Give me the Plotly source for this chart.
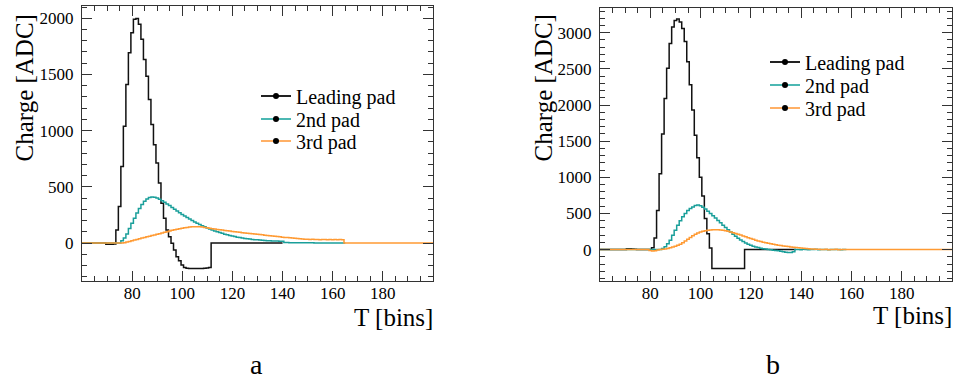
import plotly.graph_objects as go

W, H = 953, 379

# ---------------- data (bin centres in T, charge in ADC) ----------------
# panel a
a_lead_start = 60
a_lead = [0, 0, 0, 0, 0, 0, 0, 0, 0, 0,
          -10, -12, -12, -8,
          116, 324, 681, 1039, 1411, 1694, 1872, 1991, 1997, 1947, 1813, 1634, 1485,
          1277, 1054, 875, 712, 533, 354, 220, 116, 56, -3, -63, -122, -158, -196,
          -217, -224, -226, -226, -226, -226, -226, -226, -225, -222, -218,
          0, 0, 0, 0, 0, 0, 0, 0, 0, 0, 0, 0, 0, 0, 0, 0, 0, 0, 0, 0, 0, 0, 0, 0,
          0, 0, 0, 0, 0]
a_2nd_start = 60
a_2nd = [0, 0, 0, 0, 0, 0, 0, 0, 0, 0, 0, 0, 0, 0, 0, 0,
         20, 45, 80, 130, 175, 220, 268, 308, 342, 372, 392, 404, 410, 408, 400,
         390, 377, 363, 348, 333, 317, 301, 285, 269, 254, 240, 226, 213, 200, 188,
         176, 165, 154, 144, 134, 125, 116, 108, 100, 93, 86, 79, 73, 67, 62, 57,
         52, 48, 44, 41, 38, 35, 32, 30, 28, 26, 24, 22, 21, 20, 19, 18, 17, 16, 15,
         4, 4, 3, 3, 3, 3, 2, 2, 2, 2, 2, 2, 1, 1, 1, 1, 1, 1, 1, 1, 1, 1, 0, 0, 0]
a_3rd_start = 60
a_3rd = [0, 0, 0, 0, 0, 0, 0, 0, 0, 0, 0, 0, 0, 0, 0, 0, 0,
         3, 8, 14, 20, 26, 32, 38, 44, 50, 55, 60, 66, 71, 77, 83, 89, 95, 101, 107,
         113, 118, 123, 128, 132, 136, 139, 142, 144, 145, 145, 144, 142, 139, 136,
         132, 128, 124, 121, 118, 115, 112, 109, 106, 103, 101, 98, 95, 92, 89, 87,
         84, 82, 80, 78, 76, 73, 70, 67, 64, 62, 60, 57, 55, 52, 50, 48, 46, 44, 42,
         40, 38, 36, 34, 33, 32, 33, 31, 32, 30, 31, 32, 30, 31, 30, 32, 30, 31, 30,
         0, 0, 0, 0, 0, 0, 0, 0, 0, 0, 0, 0, 0, 0, 0, 0, 0, 0, 0, 0, 0, 0, 0, 0, 0,
         0, 0, 0, 0, 0, 0, 0, 0, 0, 0, 0]

# panel b
b_lead_start = 60
b_lead = [0, 0, 0, 0, 0, 0, 0, 0, 0, 0, 0,
          12, 10, 8, 5,
          0, 0, 0, 0, 0, 0,
          25, 160, 540, 1050, 1600, 2090, 2510, 2850, 3080, 3170, 3190, 3150, 3060,
          2880, 2600, 2280, 1930, 1580, 1270, 1000, 740, 430, 220, 20,
          -263, -263, -263, -263, -263, -263, -263, -263, -263, -263, -263, -263, -263,
          0, 0, 0, 0, 0, 0, 0, 0, 0, 0, 0, 0, 0, 0, 0, 0, 0, 0, 0, 0, 0]
b_2nd_start = 60
b_2nd = [0, 0, 0, 0, 0, 0, 0, 0, 0, 0, 0, 0, 0, 0, 0, 0, 0, 0, 0, 0, 0, 0, 0, 0, 0,
         14, 40, 80, 129, 198, 267, 337, 400, 455, 500, 540, 568, 590, 608, 615, 605,
         585, 560, 530, 500, 468, 435, 402, 370, 338, 305, 273, 242, 212, 183, 156,
         132, 110, 91, 75, 60, 47, 36, 27, 19, 12, 7, 2, -3, -8, -13, -18, -24, -30,
         -36, -40, -42, -30,
         0, 2, -2, 3, 0, -3, 2, 0, 3, -2, 0, 2, 0, -2, 2, 0, 1, 0, -1, 0, 0]
b_3rd_start = 60
b_3rd = [0, 0, 0, 0, 0, 0, 0, 0, 0, 0, 0, 0, 0, 0, 0, 0, 0, 0, 0, 0,
         -12, -20, -15, -6, 0, 4, 9, 16, 25, 35, 46, 58, 74, 94, 117, 142, 167, 192,
         213, 230, 243, 253, 261, 267, 271, 274, 275, 273, 270, 266, 260, 252, 243,
         233, 222, 211, 200, 188, 176, 164, 152, 141, 130, 120, 111, 102, 94, 86, 79,
         72, 66, 60, 55, 50, 45, 41, 37, 33, 29, 25, 22, 18, 15, 12, 9, 6, 4, 3, 2, 1,
         3, -2, 2, 0, 3, -1, 2, 0, 1, 0,
         0, 0, 0, 0, 0, 0, 0, 0, 0, 0, 0, 0, 0, 0, 0, 0, 0, 0, 0, 0, 0, 0, 0, 0, 0,
         0, 0, 0, 0, 0, 0, 0, 0, 0, 0, 0, 0, 0, 0, 0, 0]

series_names = ["Leading pad", "2nd pad", "3rd pad"]
series_colors = ["#111111", "#1a9f9a", "#ff9a33"]
legend_colors = ["#222222", "#4cb8b3", "#ffb066"]

x_range = [60, 200]
x_ticks = [80, 100, 120, 140, 160, 180]
a_y_range = [-338, 2109]
a_y_ticks = [0, 500, 1000, 1500, 2000]
b_y_range = [-435, 3342]
b_y_ticks = [0, 500, 1000, 1500, 2000, 2500, 3000]
panel_labels = ["a", "b"]
x_title = "T [bins]"
y_title = "Charge [ADC]"

FONT = "Liberation Serif, Times New Roman, serif"

fig = go.Figure()

panels = [
    dict(xa="x", ya="y",
         data=[(a_lead_start, a_lead), (a_2nd_start, a_2nd), (a_3rd_start, a_3rd)],
         legends=["legend", "legend2", "legend3"], leg_y=[96, 119, 141], leg_x=256),
    dict(xa="x2", ya="y2",
         data=[(b_lead_start, b_lead), (b_2nd_start, b_2nd), (b_3rd_start, b_3rd)],
         legends=["legend4", "legend5", "legend6"], leg_y=[62, 85, 108], leg_x=765),
]

for p in panels:
    for k, (start, vals) in enumerate(p["data"]):
        fig.add_trace(go.Scatter(
            x=list(range(start, start + len(vals))), y=vals,
            mode="lines", line=dict(color=series_colors[k], width=1.5, shape="hvh"),
            xaxis=p["xa"], yaxis=p["ya"], showlegend=False, hoverinfo="skip"))
    for k in range(3):
        fig.add_trace(go.Scatter(
            x=[None], y=[None], mode="lines+markers", name=series_names[k],
            line=dict(color=legend_colors[k], width=2),
            marker=dict(color="black", size=6),
            xaxis=p["xa"], yaxis=p["ya"], legend=p["legends"][k], showlegend=True))

axis_common = dict(showline=True, linecolor="#333", linewidth=1, mirror="allticks",
                   ticks="inside", ticklen=10, tickwidth=1, tickcolor="#333",
                   showgrid=False, zeroline=False, automargin=False,
                   tickfont=dict(family=FONT, size=17, color="black"))

fig.update_layout(
    width=W, height=H, margin=dict(l=0, r=0, t=0, b=0, autoexpand=False),
    paper_bgcolor="white", plot_bgcolor="white",
    font=dict(family=FONT, color="black"),
    xaxis=dict(axis_common, domain=[82 / W, 433 / W], range=x_range, anchor="y",
               tickmode="array", tickvals=x_ticks, ticklabelstandoff=-3, tickangle=0,
               minor=dict(ticks="inside", ticklen=5, dtick=5, tick0=0, tickcolor="#333")),
    yaxis=dict(axis_common, domain=[1 - 281 / H, 1 - 6 / H], range=a_y_range, anchor="x",
               tickmode="array", tickvals=a_y_ticks, ticklabelstandoff=4,
               minor=dict(ticks="inside", ticklen=5, dtick=100, tick0=0, tickcolor="#333")),
    xaxis2=dict(axis_common, domain=[600 / W, 952 / W], range=x_range, anchor="y2",
                tickmode="array", tickvals=x_ticks, ticklabelstandoff=-3, tickangle=0,
                minor=dict(ticks="inside", ticklen=5, dtick=5, tick0=0, tickcolor="#333")),
    yaxis2=dict(axis_common, domain=[1 - 281 / H, 1 - 8 / H], range=b_y_range, anchor="x2",
                tickmode="array", tickvals=b_y_ticks, ticklabelstandoff=4,
                minor=dict(ticks="inside", ticklen=5, dtick=100, tick0=0, tickcolor="#333")),
)

for p in panels:
    for k, lg in enumerate(p["legends"]):
        fig.update_layout(**{lg: dict(
            xref="paper", yref="paper",
            x=p["leg_x"] / W, y=1 - p["leg_y"][k] / H,
            xanchor="left", yanchor="middle",
            bgcolor="rgba(0,0,0,0)", borderwidth=0,
            font=dict(family=FONT, size=20, color="black"),
            itemwidth=30)})

annotations = [
    dict(text=y_title, x=24 / W, y=1 - 13 / H, xanchor="center", yanchor="top", textangle=-90),
    dict(text=y_title, x=543 / W, y=1 - 13 / H, xanchor="center", yanchor="top", textangle=-90),
    dict(text=x_title, x=435 / W, y=1 - 317 / H, xanchor="right", yanchor="middle"),
    dict(text=x_title, x=954 / W, y=1 - 315 / H, xanchor="right", yanchor="middle"),
]
for a in annotations:
    a.update(xref="paper", yref="paper", showarrow=False,
             font=dict(family=FONT, size=25, color="black"))
    fig.add_annotation(**a)
for lbl, cx in zip(panel_labels, [256, 773]):
    fig.add_annotation(text=lbl, x=cx / W, y=1 - 364 / H, xref="paper", yref="paper",
                       xanchor="center", yanchor="middle", showarrow=False,
                       font=dict(family=FONT, size=28, color="black"))

fig.write_html("out.html")
